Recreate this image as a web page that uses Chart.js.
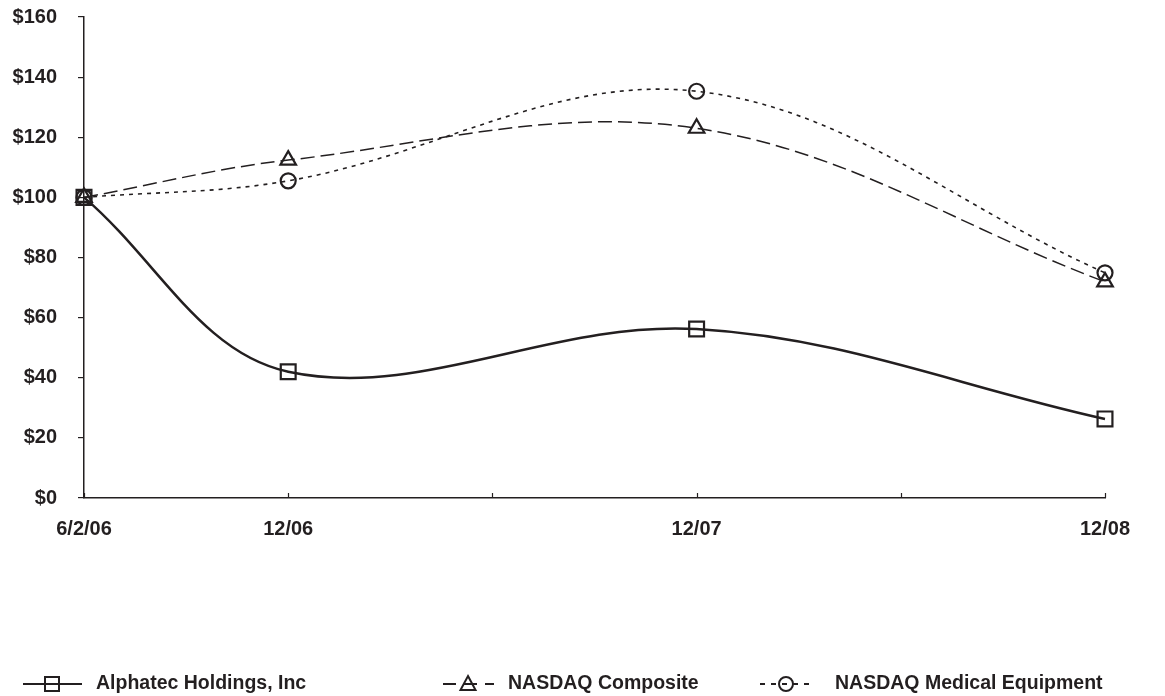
<!DOCTYPE html>
<html>
<head>
<meta charset="utf-8">
<script src="https://cdn.jsdelivr.net/npm/chart.js@4.4.1/dist/chart.umd.min.js"></script>
<style>
html,body{margin:0;padding:0;background:#fff;}
#wrap{width:1165px;height:696px;position:relative;}
</style>
</head>
<body>
<div id="wrap"><canvas id="c" width="1165" height="696"></canvas></div>
<script>
const periods = ['6/2/06', '12/06', '', '12/07', '', '12/08'];
const alphatec = [100, 42, null, 56.2, null, 26.3];
const nasdaqComposite = [100, 112.4, null, 123, null, 71.9];
const nasdaqMedical = [100, 105.5, null, 135.3, null, 74.9];
const yTicks = [0, 20, 40, 60, 80, 100, 120, 140, 160];
const seriesNames = ['Alphatec Holdings, Inc', 'NASDAQ Composite', 'NASDAQ Medical Equipment'];

const INK = '#231f20';
const FAMILY = '"Liberation Sans", Arial, sans-serif';
const FONT = 'bold 19.5px ' + FAMILY;

const innerTicks = {
  id: 'innerTicks',
  afterDatasetsDraw(chart) {
    const ctx = chart.ctx, xs = chart.scales.x, bottom = chart.chartArea.bottom;
    ctx.save();
    ctx.strokeStyle = INK; ctx.lineWidth = 1.2;
    for (let i = 0; i < periods.length; i++) {
      const px = Math.round(xs.getPixelForValue(i)) + 0.5;
      ctx.beginPath(); ctx.moveTo(px, bottom); ctx.lineTo(px, bottom - 5); ctx.stroke();
    }
    ctx.restore();
  }
};

function drawMarker(ctx, style, x, y) {
  ctx.beginPath();
  if (style === 'rect') { ctx.rect(x - 7, y - 7, 14, 14); }
  else if (style === 'triangle') { ctx.moveTo(x, y - 8); ctx.lineTo(x + 7.5, y + 6); ctx.lineTo(x - 7.5, y + 6); ctx.closePath(); }
  else { ctx.arc(x, y, 7, 0, Math.PI * 2); }
  ctx.stroke();
}

const customLegend = {
  id: 'customLegend',
  afterDraw(chart) {
    const ctx = chart.ctx;
    const y = 684;
    const items = [
      {x0: 23, x1: 82, mx: 52, tx: 96, dash: [], lw: 2, style: 'rect'},
      {x0: 443, x1: 494, mx: 468, tx: 508, dash: [13, 8], lw: 2, style: 'triangle'},
      {x0: 760, x1: 812, mx: 786, tx: 835, dash: [5, 6], lw: 2, style: 'circle'}
    ];
    ctx.save();
    items.forEach((it, i) => {
      ctx.strokeStyle = INK; ctx.lineWidth = it.lw; ctx.setLineDash(it.dash);
      ctx.beginPath(); ctx.moveTo(it.x0, y); ctx.lineTo(it.x1, y); ctx.stroke();
      ctx.setLineDash([]);
      ctx.lineWidth = 2;
      drawMarker(ctx, it.style, it.mx, y);
      ctx.fillStyle = INK; ctx.font = FONT; ctx.textBaseline = 'middle'; ctx.textAlign = 'left';
      ctx.fillText(seriesNames[i], it.tx, y);
    });
    ctx.restore();
  }
};

const common = {
  borderColor: INK,
  pointBorderColor: INK,
  pointBackgroundColor: 'rgba(0,0,0,0)',
  pointBorderWidth: 2.2,
  tension: 0.36,
  spanGaps: true,
  fill: false,
  clip: false
};

new Chart(document.getElementById('c'), {
  type: 'line',
  data: {
    labels: periods,
    datasets: [
      Object.assign({}, common, {label: seriesNames[0], data: alphatec, borderWidth: 2.5, pointStyle: 'rect', pointRadius: 10.5}),
      Object.assign({}, common, {label: seriesNames[1], data: nasdaqComposite, borderWidth: 1.5, borderDash: [14, 6], pointStyle: 'triangle', pointRadius: 9}),
      Object.assign({}, common, {label: seriesNames[2], data: nasdaqMedical, borderWidth: 1.6, borderDash: [4, 5], pointStyle: 'circle', pointRadius: 7.5})
    ]
  },
  options: {
    responsive: false,
    animation: false,
    devicePixelRatio: 1,
    layout: {autoPadding: false, padding: {top: 17, right: 60, left: 0, bottom: 0}},
    plugins: {legend: {display: false}, tooltip: {enabled: false}},
    scales: {
      x: {
        type: 'category',
        offset: false,
        grid: {display: true, drawOnChartArea: false, drawTicks: false, color: INK},
        border: {display: true, color: INK, width: 1.5},
        ticks: {color: INK, font: {family: FAMILY, size: 20, weight: 'bold'}, padding: 19, maxRotation: 0, autoSkip: false},
        afterFit(scale) { scale.height = 198; scale.paddingTop = 0; scale.paddingBottom = 0; }
      },
      y: {
        min: 0, max: 160,
        afterBuildTicks(scale) { scale.ticks = yTicks.map(v => ({value: v})); },
        grid: {display: true, drawOnChartArea: false, drawTicks: true, tickLength: 6, color: INK, lineWidth: 1.2},
        border: {display: true, color: INK, width: 1.5},
        ticks: {color: INK, font: {family: FAMILY, size: 20, weight: 'bold'}, padding: 21, callback: v => '$' + v},
        afterFit(scale) { scale.width = 84; scale.paddingTop = 0; scale.paddingBottom = 0; }
      }
    }
  },
  plugins: [innerTicks, customLegend]
});
</script>
</body>
</html>
